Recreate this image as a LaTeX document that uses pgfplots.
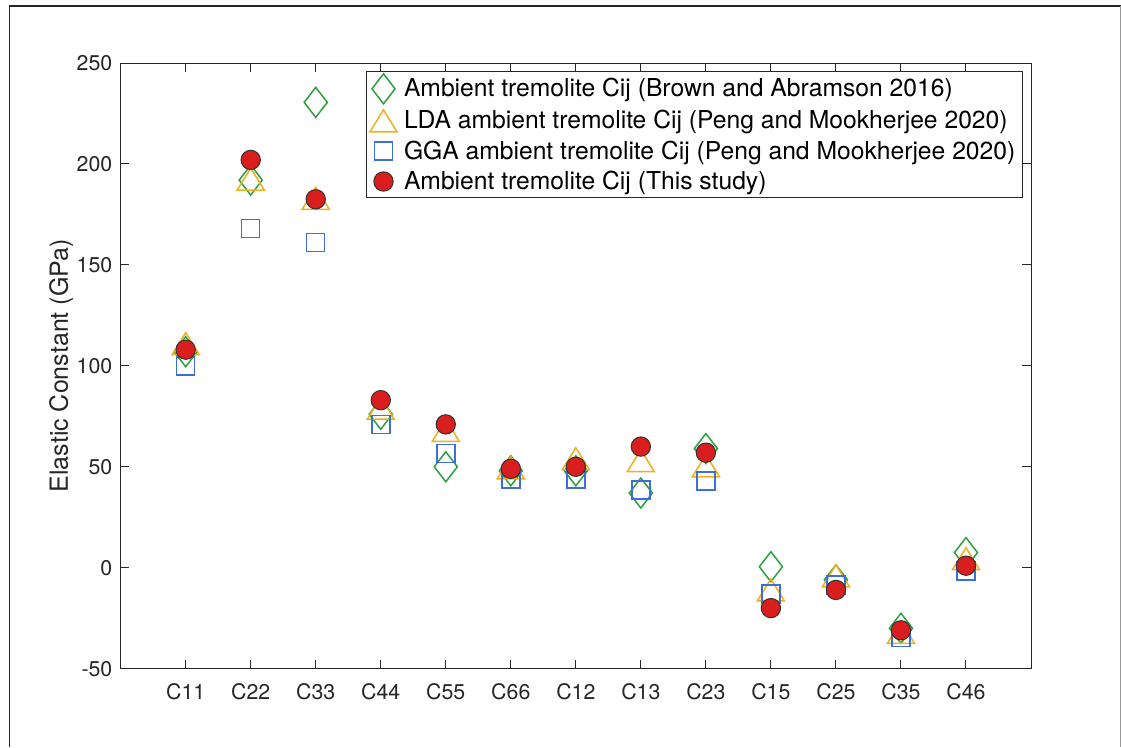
\documentclass[border=0pt]{standalone}
\usepackage{pgfplots}
\usepackage{pgfplotstable}
\pgfplotsset{compat=1.18}
\usepackage{fontspec}
\setmainfont{TeX Gyre Heros}

\definecolor{mgreen}{RGB}{44,160,64}
\definecolor{morange}{RGB}{237,177,32}
\definecolor{mblue}{RGB}{62,110,215}
\definecolor{mred}{RGB}{218,30,30}
\definecolor{axisgray}{RGB}{38,38,38}

% MATLAB-style open markers, centred on their bounding box
\pgfdeclareplotmark{mdiamond}{%
  \pgfpathmoveto{\pgfqpoint{0pt}{\pgfplotmarksize}}%
  \pgfpathlineto{\pgfqpoint{0.77\pgfplotmarksize}{0pt}}%
  \pgfpathlineto{\pgfqpoint{0pt}{-\pgfplotmarksize}}%
  \pgfpathlineto{\pgfqpoint{-0.77\pgfplotmarksize}{0pt}}%
  \pgfpathclose\pgfusepathqstroke}
\pgfdeclareplotmark{mtriangle}{%
  \pgfpathmoveto{\pgfqpoint{0pt}{\pgfplotmarksize}}%
  \pgfpathlineto{\pgfqpoint{1.23\pgfplotmarksize}{-\pgfplotmarksize}}%
  \pgfpathlineto{\pgfqpoint{-1.23\pgfplotmarksize}{-\pgfplotmarksize}}%
  \pgfpathclose\pgfusepathqstroke}

% Elastic constants (GPa): 1..13 = C11 C22 C33 C44 C55 C66 C12 C13 C23 C15 C25 C35 C46
\pgfplotstableread{
x   brown  lda    gga    this
1   107    111    100    108
2   192    192.5  168    202
3   230.5  183    161    182.5
4   76     79     71     83
5   50     68     56.5   71
6   48     49.5   44     49
7   48     54     44     50
8   37     53     38.5   60
9   59     50.5   43     57
10  0.5    -11    -13    -20
11  -6     -4     -8.5   -11
12  -30    -32    -34.5  -31
13  7.5    4.5    -1.5   1
}\cij

\begin{document}
\begin{tikzpicture}
\useasboundingbox (0,0) rectangle (672.6pt,448.2pt);
\fill[white] (0,0) rectangle (672.6pt,448.2pt);
\draw[black!85, line width=0.8pt] (5.6pt,0) -- (5.6pt,444.6pt) -- (672.6pt,444.6pt);
\draw[black!40, line width=0.6pt] (672pt,0) -- (672pt,444.6pt);

\begin{axis}[
  at={(72.4pt,47pt)}, anchor=south west,
  scale only axis, width=546.2pt, height=363.4pt,
  xmin=0, xmax=14, ymin=-50, ymax=250,
  xtick={1,...,13},
  xticklabels={C11,C22,C33,C44,C55,C66,C12,C13,C23,C15,C25,C35,C46},
  ytick={-50,0,50,100,150,200,250},
  yticklabels={-50,0,50,100,150,200,250},
  tick align=inside, tick pos=both,
  major tick length=5.2pt,
  axis line style={draw=axisgray, line width=0.6pt},
  tick style={draw=axisgray, line width=0.6pt},
  ticklabel style={font=\fontsize{12.8}{14}\selectfont, text=black!85},
  yticklabel style={inner sep=0pt, anchor=east, xshift=-4.8pt},
  xticklabel style={inner sep=0pt, anchor=north, yshift=-8.6pt},
  ylabel={Elastic Constant (GPa)},
  every axis y label/.style={at={(axis description cs:-0.0579,0.5)}, rotate=90, anchor=base,
    font=\fontsize{15}{18}\selectfont, text=black!85},
  legend style={at={(0.2695,0.9868)}, anchor=north west,
    draw=axisgray, line width=0.6pt, fill=white,
    inner xsep=0pt, inner ysep=1.4pt, row sep=2.2pt, column sep=0pt,
    font=\fontsize{14.8}{17}\selectfont,
    nodes={inner xsep=4.2pt, inner ysep=0pt, text=black}},
  legend cell align=left,
  legend image code/.code={%
    \path[draw=none, fill=none] (0pt,-8pt) rectangle (17.4pt,8pt);
    \draw[#1] plot coordinates {(10.2pt,0pt)};},
]
\addplot[only marks, color=mgreen, mark=mdiamond, mark size=9pt,
  mark options={line width=0.9pt}] table[x=x, y=brown] {\cij};
\addlegendentry{Ambient tremolite Cij (Brown and Abramson 2016)}

\addplot[only marks, color=morange, mark=mtriangle, mark size=6.6pt,
  mark options={line width=0.9pt}] table[x=x, y=lda] {\cij};
\addlegendentry{LDA ambient tremolite Cij (Peng and Mookherjee 2020)}

\addplot[only marks, color=mblue, mark=square, mark size=5.4pt,
  mark options={line width=0.9pt}] table[x=x, y=gga] {\cij};
\addlegendentry{GGA ambient tremolite Cij (Peng and Mookherjee 2020)}

\addplot[only marks, mark=*, mark size=5.8pt,
  mark options={fill=mred, draw=black!80, line width=0.6pt}] table[x=x, y=this] {\cij};
\addlegendentry{Ambient tremolite Cij (This study)}
\end{axis}
\end{tikzpicture}
\end{document}
